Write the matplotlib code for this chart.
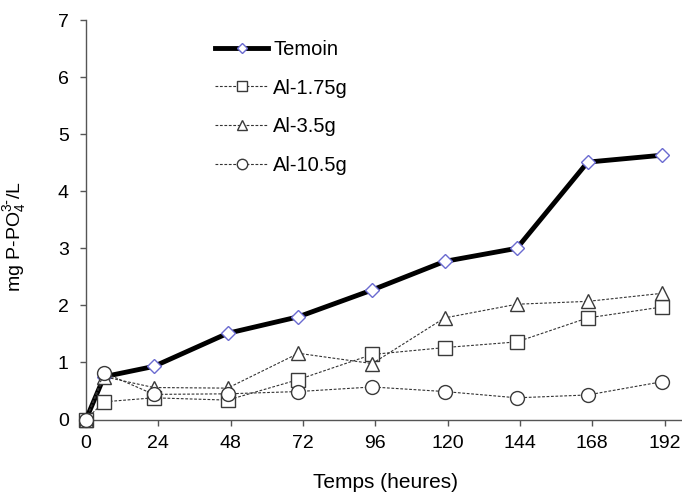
import matplotlib
matplotlib.use("Agg")
import matplotlib.pyplot as plt

plt.rcParams['font.family'] = ['Liberation Sans', 'DejaVu Sans']
plt.rcParams['mathtext.default'] = 'regular'

# sampling times (hours) and phosphate concentrations (mg P-PO4/L)
temps = [0, 6, 22.5, 47, 70.5, 95, 119, 143, 166.5, 191]
temoin = [0, 0.75, 0.93, 1.51, 1.80, 2.27, 2.77, 3.00, 4.51, 4.63]
al_175 = [0, 0.31, 0.38, 0.34, 0.70, 1.14, 1.26, 1.36, 1.78, 1.97]
al_35 = [0, 0.75, 0.56, 0.55, 1.16, 0.98, 1.78, 2.02, 2.07, 2.21]
al_105 = [0, 0.82, 0.44, 0.45, 0.49, 0.57, 0.49, 0.38, 0.43, 0.66]

labels = ['Temoin', 'Al-1.75g', 'Al-3.5g', 'Al-10.5g']
xticks = [0, 24, 48, 72, 96, 120, 144, 168, 192]

fig = plt.figure(figsize=(6.82, 4.94), dpi=100)
ax = fig.add_axes([0.1261, 0.1508, 0.8739, 0.8087])

edge = '#3a3a3a'
dash = dict(color='#333333', lw=0.8, linestyle=(0, (2.5, 1.5)))

ax.plot(temps, temoin, color='black', lw=3.5, marker='D', ms=6.8,
        mfc='white', mec='#6a6ad0', mew=1.0, label=labels[0], clip_on=False, zorder=3)
ax.plot(temps, al_175, marker='s', ms=9.5, mfc='white', mec=edge, mew=1.0,
        label=labels[1], clip_on=False, zorder=4, **dash)
ax.plot(temps, al_35, marker='^', ms=10, mfc='white', mec=edge, mew=1.0,
        label=labels[2], clip_on=False, zorder=4, **dash)
ax.plot(temps, al_105, marker='o', ms=10, mfc='white', mec=edge, mew=1.0,
        label=labels[3], clip_on=False, zorder=5, **dash)

ax.set_xlim(0, 197.8)
ax.set_ylim(0, 7)
ax.set_xticks(xticks)
ax.set_yticks(range(0, 8))

for side in ['top', 'right']:
    ax.spines[side].set_visible(False)
for side in ['left', 'bottom']:
    ax.spines[side].set_color('#555555')
    ax.spines[side].set_linewidth(1.0)
ax.tick_params(axis='both', direction='out', length=4.5, width=1.0,
               color='#555555', labelsize=14)
ax.tick_params(axis='y', pad=8)
ax.tick_params(axis='x', pad=7)

ax.set_xlabel('Temps (heures)', fontsize=15)
ax.set_ylabel(r'mg P-PO$_4^{3\text{-}}$/L', fontsize=14)
ax.xaxis.set_label_coords(0.502, -0.134)
ax.yaxis.set_label_coords(-0.098, 0.457)

ax.legend(loc='upper left', bbox_to_anchor=(215 / 682, 1 - 40 / 494),
          bbox_transform=fig.transFigure, frameon=False, fontsize=14.5,
          handlelength=2.65, handletextpad=0.25, labelspacing=0.97,
          borderpad=0, borderaxespad=0, markerscale=0.75)

fig.savefig('out.png', dpi=100)
